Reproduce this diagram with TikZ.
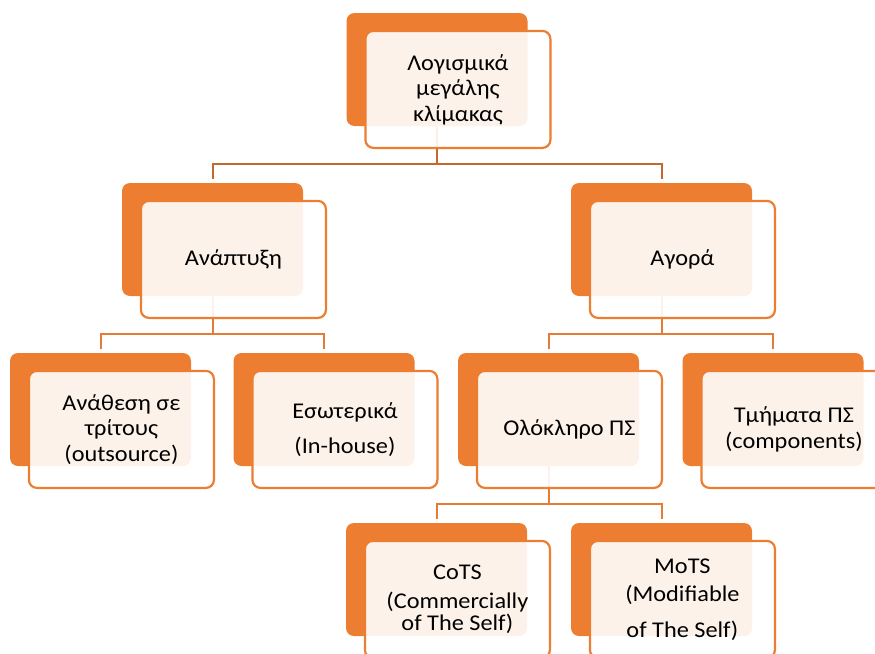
\documentclass[tikz,border=0pt]{standalone}
\usepackage{fontspec}
\setmainfont{Carlito}[FakeStretch=1.08]
\usetikzlibrary{calc}
\definecolor{accent}{HTML}{ED7D31}
\definecolor{linkdark}{HTML}{C4682F}
\definecolor{linklight}{HTML}{E67B35}
\tikzset{
  backbox/.style={fill=accent, draw=none, rounded corners=8pt,
    minimum width=181pt, minimum height=113pt, inner sep=0pt},
  frontbox/.style={draw=accent, line width=2.2pt, fill=white, fill opacity=0.9,
    text opacity=1, rounded corners=8pt, minimum width=185pt, minimum height=117pt,
    inner sep=1pt, align=center, anchor=north west, text=black,
    font=\fontsize{22.5}{25.5}\selectfont},
  link/.style={line width=2pt, draw=linklight},
  linktop/.style={line width=2pt, draw=linkdark},
}
\begin{document}
\begin{tikzpicture}[x=1pt,y=-1pt]
\useasboundingbox (0,0) rectangle (875,653);

% orange back plates
\node[backbox] (topb)   at (437,69.5)   {};
\node[backbox] (devb)   at (212.5,239.5) {};
\node[backbox] (buyb)   at (661.5,239.5) {};
\node[backbox] (outb)   at (100.5,409.5) {};
\node[backbox] (inhb)   at (324,409.5)   {};
\node[backbox] (wholeb) at (548.5,409.5) {};
\node[backbox] (compb)  at (773,409.5)   {};
\node[backbox] (cotsb)  at (436.5,579.5) {};
\node[backbox] (motsb)  at (661.5,579.5) {};

% elbow connectors
\draw[linktop] (topb.south) -- ++(0,38) -| ([yshift=4pt]devb.north);
\draw[linktop] (topb.south) -- ++(0,38) -| ([yshift=4pt]buyb.north);
\draw[link] (devb.south) -- ++(0,38) -| ([yshift=4pt]outb.north);
\draw[link] (devb.south) -- ++(0,38) -| ([yshift=4pt]inhb.north);
\draw[link] (buyb.south) -- ++(0,38) -| ([yshift=4pt]wholeb.north);
\draw[link] (buyb.south) -- ++(0,38) -| ([yshift=4pt]compb.north);
\draw[link] (wholeb.south) -- ++(0,38) -| ([yshift=4pt]cotsb.north);
\draw[link] (wholeb.south) -- ++(0,38) -| ([yshift=4pt]motsb.north);

% translucent front panels with the labels
\node[frontbox] (top)   at ([xshift=18pt,yshift=-17pt]topb.north west)   {Λογισμικά\\μεγάλης\\κλίμακας};
\node[frontbox] (dev)   at ([xshift=18pt,yshift=-17pt]devb.north west)   {Ανάπτυξη};
\node[frontbox] (buy)   at ([xshift=18pt,yshift=-17pt]buyb.north west)   {Αγορά};
\node[frontbox] (out)   at ([xshift=18pt,yshift=-17pt]outb.north west)   {Ανάθεση σε\\τρίτους\\(outsource)};
\node[frontbox] (inh)   at ([xshift=18pt,yshift=-17pt]inhb.north west)   {Εσωτερικά\\[10pt](In-house)};
\node[frontbox] (whole) at ([xshift=18pt,yshift=-17pt]wholeb.north west) {Ολόκληρο ΠΣ};
\node[frontbox] (comp)  at ([xshift=18pt,yshift=-17pt]compb.north west)  {Τμήματα ΠΣ\\(components)};
\node[frontbox] (cots)  at ([xshift=18pt,yshift=-17pt]cotsb.north west)  {CoTS\\[3pt](Commercially\\[-3pt]of The Self)};
\node[frontbox] (mots)  at ([xshift=18pt,yshift=-17pt]motsb.north west)  {MoTS\\[3pt](Modifiable\\[10pt]of The Self)};
\end{tikzpicture}
\end{document}
